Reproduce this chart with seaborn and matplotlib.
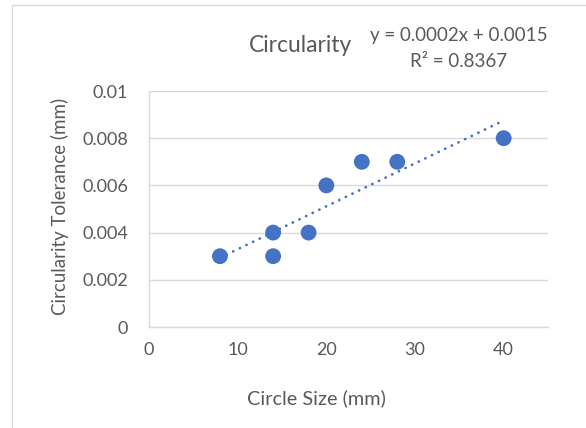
import numpy as np
import pandas as pd
import matplotlib
matplotlib.use("Agg")
import matplotlib.pyplot as plt
from matplotlib.patches import Rectangle
import seaborn as sns

# Measured circle sizes and their circularity tolerances
circle_size = [8, 14, 14, 18, 20, 24, 28, 40]
tolerance = [0.003, 0.003, 0.004, 0.004, 0.006, 0.007, 0.007, 0.008]
x_ticks = [0, 10, 20, 30, 40]
y_ticks = [0, 0.002, 0.004, 0.006, 0.008, 0.01]
y_tick_labels = ["0", "0.002", "0.004", "0.006", "0.008", "0.01"]

df = pd.DataFrame({"size": circle_size, "tol": tolerance})

sns.set_theme(style="white")
plt.rcParams["font.family"] = ["Lato", "DejaVu Sans"]

text_color = "#595959"
grid_color = "#D9D9D9"
point_color = "#4472C4"

fig = plt.figure(figsize=(5.86, 4.28), dpi=100)
fig.patch.set_facecolor("white")
fig.patches.append(Rectangle((12 / 586, -0.1), 1.2, 1 - 5 / 428 + 0.1,
                             transform=fig.transFigure, fill=False,
                             edgecolor="#D9D9D9", linewidth=1.0))

ax = fig.add_axes([149 / 586, 1 - 327 / 428, 399 / 586, 236 / 428])

# Linear trendline from a least-squares fit
slope, intercept = np.polyfit(df["size"], df["tol"], 1)
pred = slope * df["size"] + intercept
r2 = 1 - ((df["tol"] - pred) ** 2).sum() / ((df["tol"] - df["tol"].mean()) ** 2).sum()
xs = np.array([df["size"].min(), df["size"].max()])
ax.plot(xs, slope * xs + intercept, color=point_color, linewidth=2.0,
        linestyle=(0, (0.05, 2.6)), dash_capstyle="round", zorder=2)

sns.scatterplot(data=df, x="size", y="tol", ax=ax, color=point_color,
                s=130, edgecolor="none", zorder=3)

ax.set_xlim(0, 45)
ax.set_ylim(0, 0.01)
ax.set_xticks(x_ticks)
ax.set_yticks(y_ticks)
ax.set_yticklabels(y_tick_labels)
ax.yaxis.grid(True, color=grid_color, linewidth=1.0)
ax.set_axisbelow(True)
for side in ["top", "right"]:
    ax.spines[side].set_visible(False)
for side in ["left", "bottom"]:
    ax.spines[side].set_color(grid_color)
    ax.spines[side].set_linewidth(1.0)
ax.tick_params(axis="both", length=0, labelsize=13, labelcolor=text_color)
ax.tick_params(axis="y", pad=15)
ax.tick_params(axis="x", pad=11)

ax.set_xlabel("Circle Size (mm)", fontsize=14.3, color=text_color)
ax.set_ylabel("Circularity Tolerance (mm)", fontsize=13.5, color=text_color)
ax.xaxis.set_label_coords((316 - 149) / 399, (327 - 389) / 236)
ax.yaxis.set_label_coords((69 - 149) / 399, 0.51)

fig.text(300 / 586, 1 - 45 / 428, "Circularity", fontsize=16.5, color=text_color,
         ha="center", va="center")
fig.text(459 / 586, 1 - 48.5 / 428,
         f"y = {slope:.4f}x + {intercept:.4f}\nR² = {r2:.4f}",
         fontsize=13.5, color=text_color, ha="center", va="center", linespacing=1.6)

fig.savefig("out.png", dpi=100, facecolor="white")
